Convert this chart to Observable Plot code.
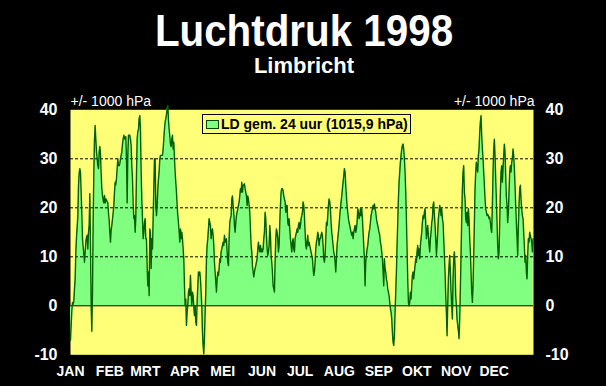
<!DOCTYPE html>
<html><head><meta charset="utf-8">
<script src="https://cdn.jsdelivr.net/npm/d3@7"></script>
<script src="https://cdn.jsdelivr.net/npm/@observablehq/plot@0.6"></script>
<style>
html,body{margin:0;padding:0;background:#000;}
#chart{position:relative;width:606px;height:386px;background:#000;overflow:hidden;font-family:"Liberation Sans",Arial,sans-serif;}
#chart svg{position:absolute;left:0;top:0;}
#title{position:absolute;left:1px;top:9px;width:606px;text-align:center;color:#fff;font-weight:bold;font-size:44px;line-height:44px;transform:scaleX(0.917);white-space:nowrap;}
#subtitle{position:absolute;left:1px;top:55px;width:606px;text-align:center;color:#fff;font-weight:bold;font-size:22px;line-height:22px;white-space:nowrap;}
#legend{position:absolute;left:202px;top:114px;width:209px;height:20px;box-sizing:border-box;border:1px solid #000;background:#ffff78;display:flex;align-items:center;font-weight:bold;font-size:14px;color:#000;white-space:nowrap;overflow:hidden;}
#legend .sw{display:inline-block;width:11px;height:7px;margin-left:3px;background:#80ff80;border:1px solid #004a00;}
#legend .lt{margin-left:2px;}
</style>
</head><body>
<div id="chart"></div>
<script>
const titleText = "Luchtdruk 1998";
const subtitleText = "Limbricht";
const unitText = "+/- 1000 hPa";
const seriesName = "LD gem. 24 uur (1015,9 hPa)";

const monthLabels = ["JAN","FEB","MRT","APR","MEI","JUN","JUL","AUG","SEP","OKT","NOV","DEC"];
const monthStartDay = [0,31,59,90,120,151,181,212,243,273,304,334];
const yTicks = [-10,0,10,20,30,40];
const gridValues = [10,20,30];

// sampling interval of the read-off values (days)
const stepDays = 0.5254;

// air pressure minus 1000 hPa, in consecutive periods
const ldJanMar = [
-7,-4,-1,0.7,0.3,1,3.5,5.5,11,14,
16,18.4,24.5,27,28,27.3,23,19,13.7,12,
10.5,8.9,11,13,14,14.4,11.6,15,16.4,22.9,
12.3,0,-5.2,2.8,17,27.3,34,36.8,34,31.5,
30,28.6,28,31.4,32.5,31,27,24,22.5,21.5,
21,22.5,21,21.8,21.6,21.3,21,19,17.5,15,
13,15.5,16.4,17.7,19,20.5,23.2,25.2,24.7,26,
28,30,28.6,28.6,29,30,30.7,31.4,33,34,
34.8,34.4,34,34.5,30,21,30.7,34.8,34.8,34.8,
34,32.7,28.6,26,21,17.8,18.4,15,18,27,
34,35.6,36,38.2,38.8,36,27.3,21.8,17.8,13.7,
15,17,17.8,13.7];
const ldMarMay = [
13.7,8,4.1,6.9,2.1,15.7,15,7.6,13.7,11.6,
17.8,23.9,30,30,20.5,18.4,20.5,23.9,25.9,27.3,
30,30.7,30.7,30.7,30.7,32,34,36,37.5,38.2,
39,40.2,40.9,38,36,34.7,33,32.5,34,34.8,
32,33.4,30,27.3,25.2,23.2,20.5,18.4,17,15,
13,15.7,13.7,15,13.7,11.6,9.6,4.1,0,1.4,
-4,-1.3,0,2.8,3.5,2.1,6.2,2.8,0,2.8,
2.1,0,-2,0,-3.3,-4,0.7,4.1,6.9,6.2,
6.9,5.5,2.8,0,-5.4,-8.1,-9.8,-6.7,-1.3,2.8,
9.6,12.3,13.7,15.7,17.8,17,16.4,13.7,15,15.7,
14.4,12.3,8.9,6.9,4.8,2.8,5.5,6.9,6.2,7.6,
9.6,8.9,11,11.6,12.3,13,12.3];
const ldMayJul = [
14.4,13,13,13.7,11,8.9,8.2,13.7,17,17.8,
18.4,21.8,22.4,20.5,19.1,16.4,15,17,18.4,19.1,
19.8,20.5,21.2,22.4,23.9,23.2,25.2,23.2,24.6,24.6,
24.9,23.9,23.2,22.4,20.5,22.4,21.8,20.5,19.1,15.7,
12.3,11,8.2,6.9,5.9,6.9,7.6,8.2,8.9,9.6,
11.6,13,11.6,11,12.3,11,11.6,11,11.6,13.7,
15,19.1,17.8,14.4,11.6,10.3,11,12.3,16.4,14.4,
10.3,8.9,6.9,4.1,3.5,2.8,8.9,13.7,15.7,15,
13.7,11,12.3,17,20.5,23.2,23.9,23.9,23.5,22.4,
21.8,21.2,19.1,20.5,20.5,17,16.4,17.8,15.7,13.7,
12.3,11,13,13.7,11.6,11,13.7,14.4,15,15.7,
15,16.4,17,15.7,16.4,17.8,18.4];
const ldJulSep = [
19.1,21.2,20.5,18.4,15,12.3,11.6,13,14.4,12.3,
13,12.3,11.6,11,10.3,9.6,7.6,6.2,6.9,8.9,
11.6,13,13.7,15,14.4,12.3,13.7,13.7,14.4,15,
14.4,12.3,9.6,8.9,10.3,13.7,17,16.4,18.4,20.5,
21.8,21.2,19.8,17,15,13.7,12.3,11,10.3,8.9,
6.9,9.6,12.3,13.7,15,16.4,18.4,19.8,21.2,22.4,
23.9,25.2,26.6,28,27.3,24.6,22.4,20.5,19.1,17.8,
17,16.4,15.7,15,14.4,15,13.7,15,15.7,16.4,
15,15.7,17,19.8,19.1,17.8,18.4,19.8,18.4,19.8,
17.8,15,12.3,9.6,4.1,8.9,10.3,11.6,12.3,13.7,
15,15.7,17,18.4,19.1,19.8,20.5,19.8,20.8,19.8,
19.1,17.8,17,16.4,15.7,15,14.4];
const ldSepNov = [
13,12.3,11,9.6,6.9,4.1,9.6,7.6,6.9,5.5,
4.8,3.5,2.8,2.1,0.7,-0.6,-1.3,-2.7,-5.4,-7.4,
-8.1,-6.1,-1.3,2.8,6.9,12.3,17,21.8,25.2,27.3,
29.3,30.7,32,32.7,33,32,30,27.3,23.2,17.8,
11.6,5.5,0.7,0,0.7,2.8,1.4,4.1,6.2,6.9,
5.5,6.9,8.2,9.6,8.9,11,12.3,10.3,11.6,9.6,
12.3,13.7,15,17,18.4,17.8,19.1,19.8,17,13.7,
15,16.4,14.4,12.3,11,13.7,15,17,17.8,20.5,
21.2,18.4,16.4,13.7,10.3,12.3,15,17.8,19.1,20.5,
19.8,18.4,19.8,17.8,17,13.7,10.3,6.9,2.1,-1.3,
-6.1,0,5.5,8.2,10.3,6.9,2.8,0,-2.7,5.5,
9.6,11,8.2,2.1,0,-2.7,-4];
const ldNovDec = [
-5,-6.7,-2.7,3.5,10.3,17.8,23.9,27.3,28.6,23.2,
21.8,17.8,17,19.1,16.4,19.8,17.8,13.7,11,6.9,
2.8,0.7,4.1,10.3,17,23.9,27.3,29.3,28,27.3,
30.7,32,35.4,37.5,38.8,34.8,32,30,27.3,24.6,
21.8,19.8,19.1,18.4,18.7,18.4,17.8,18.1,17,15.7,
15,20.5,27.3,32,34,30.7,25.9,21.8,17,12.3,
9.6,11,17,23.2,27.3,28.6,25.2,28,30.7,33,
31.4,26.6,22.4,20.5,17,19.1,23.2,27.3,28.6,27.3,
29.3,30,32,30.7,28,24.6,20.5,17,13.7,10.3,
16.4,20.5,23.9,24.6,21.8,19.8,18.4,17.8,15,12.3,
8.9,10.3,6.9,5.5,10.3,13.7,13,15,14.4,13.7,
13,11,13.7];

const ld = [...ldJanMar, ...ldMarMay, ...ldMayJul, ...ldJulSep, ...ldSepNov, ...ldNovDec];
const data = ld.map((v, i) => ({day: i * stepDays, v}));
const monthByDay = new Map(monthStartDay.map((d, i) => [d, monthLabels[i]]));

const YELLOW = "#ffff78";
const FONT = '"Liberation Sans", Arial, sans-serif';

const plot = Plot.plot({
  width: 606,
  height: 386,
  marginLeft: 70,
  marginRight: 73,
  marginTop: 109.3,
  marginBottom: 31.7,
  style: {background: "#000", fontFamily: FONT, color: "#fff", overflow: "visible"},
  x: {type: "linear", domain: [0, 365]},
  y: {domain: [-10, 40]},
  marks: [
    Plot.frame({fill: YELLOW, stroke: "none"}),
    Plot.areaY(data, {x: "day", y: "v", fill: "#80ff80", curve: "linear"}),
    Plot.gridY(gridValues, {stroke: "#000", strokeOpacity: 1, strokeDasharray: "3,2", strokeWidth: 1}),
    Plot.ruleY([0], {stroke: "#000", strokeWidth: 1}),
    Plot.lineY(data, {x: "day", y: "v", stroke: "#006000", strokeWidth: 1.4, curve: "linear"}),
    Plot.axisY({anchor: "left", ticks: yTicks, tickSize: 0, tickPadding: 13, tickFormat: d => String(d),
      fontSize: 16, fontWeight: "bold", color: "#fff", label: null}),
    Plot.axisY({anchor: "right", ticks: yTicks, tickSize: 0, tickPadding: 12, tickFormat: d => String(d),
      fontSize: 16, fontWeight: "bold", color: "#fff", label: null}),
    Plot.axisX({anchor: "bottom", ticks: monthStartDay, tickSize: 0, tickPadding: 11,
      tickFormat: d => monthByDay.get(d), fontSize: 14, fontWeight: "bold", color: "#fff", label: null}),
    Plot.text([unitText], {text: d => d, frameAnchor: "top-left", textAnchor: "start", dy: -14,
      fill: "#fff", fontSize: 14}),
    Plot.text([unitText], {text: d => d, frameAnchor: "top-right", textAnchor: "end", dy: -14, dx: 1,
      fill: "#fff", fontSize: 14})
  ]
});

const chart = document.getElementById("chart");
chart.appendChild(plot);

const t = document.createElement("div"); t.id = "title"; t.textContent = titleText; chart.appendChild(t);
const s = document.createElement("div"); s.id = "subtitle"; s.textContent = subtitleText; chart.appendChild(s);
const lg = document.createElement("div"); lg.id = "legend";
const sw = document.createElement("span"); sw.className = "sw";
const lt = document.createElement("span"); lt.className = "lt"; lt.textContent = seriesName;
lg.appendChild(sw); lg.appendChild(lt); chart.appendChild(lg);
</script>
</body></html>
